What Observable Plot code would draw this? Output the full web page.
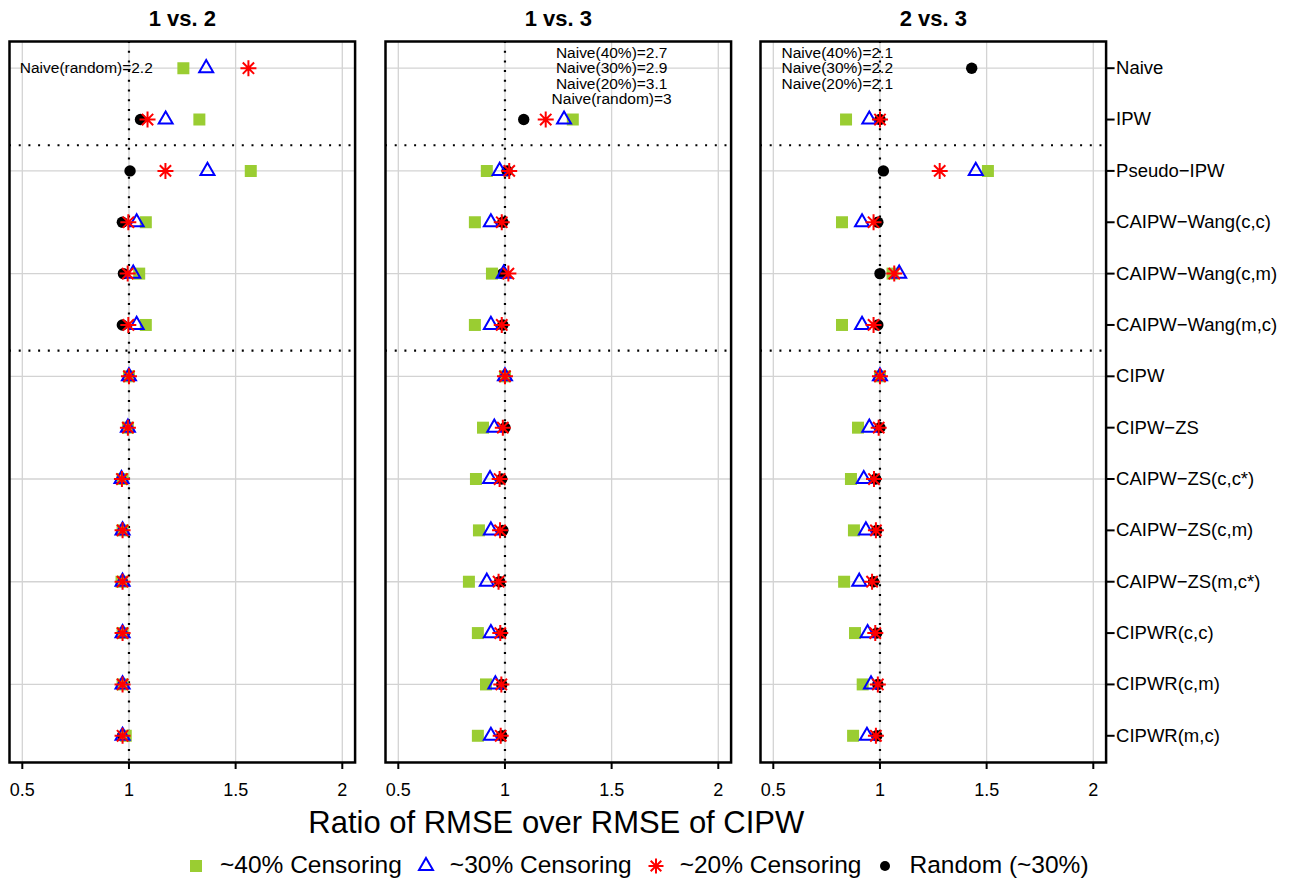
<!DOCTYPE html>
<html><head><meta charset="utf-8">
<script src="https://cdn.jsdelivr.net/npm/d3@7"></script>
<script src="https://cdn.jsdelivr.net/npm/@observablehq/plot@0.6"></script>
<style>
html,body{margin:0;padding:0;background:#fff;}
#root{position:relative;width:1290px;height:883px;overflow:hidden;font-family:"Liberation Sans",Arial,sans-serif;background:#fff;}
.panel{position:absolute;top:0;}
#legend{position:absolute;left:186px;top:853.3px;display:flex;align-items:center;font-size:24.5px;line-height:1;white-space:nowrap;color:#000;}
#legend svg{display:block;flex:none;}
</style></head><body><div id="root"></div>
<script>
// ---------- data ----------
const methods = ["Naive","IPW","Pseudo\u2212IPW","CAIPW\u2212Wang(c,c)","CAIPW\u2212Wang(c,m)","CAIPW\u2212Wang(m,c)","CIPW","CIPW\u2212ZS","CAIPW\u2212ZS(c,c*)","CAIPW\u2212ZS(c,m)","CAIPW\u2212ZS(m,c*)","CIPWR(c,c)","CIPWR(c,m)","CIPWR(m,c)"];
const seriesNames = ["~40% Censoring","~30% Censoring","~20% Censoring","Random (~30%)"];
const seriesTags = ["40%","30%","20%","random"];
const panelTitles = ["1 vs. 2","1 vs. 3","2 vs. 3"];
const xTicks = [0.5, 1, 1.5, 2];
const yGridTicks = [2, 4, 6, 8, 10, 12, 14];
const groupBreaks = [12.5, 8.5];

// panel "1 vs. 2"
const p12_c40 = [1.255, 1.33, 1.571, 1.079, 1.048, 1.079, 1.0, 0.995, 0.97, 0.97, 0.965, 0.97, 0.97, 0.985];
const p12_c30 = [1.362, 1.172, 1.368, 1.036, 1.02, 1.036, 1.0, 0.995, 0.965, 0.97, 0.97, 0.97, 0.97, 0.97];
const p12_c20 = [1.56, 1.087, 1.171, 0.997, 0.994, 0.997, 1.0, 0.995, 0.967, 0.97, 0.97, 0.97, 0.97, 0.97];
const p12_rnd = [2.2, 1.054, 1.005, 0.969, 0.974, 0.969, 1.0, 0.995, 0.967, 0.97, 0.97, 0.97, 0.97, 0.97];
// panel "1 vs. 3"
const p13_c40 = [2.7, 1.318, 0.915, 0.859, 0.939, 0.859, 1.0, 0.897, 0.864, 0.878, 0.831, 0.873, 0.911, 0.873];
const p13_c30 = [2.9, 1.277, 0.975, 0.934, 0.994, 0.934, 1.0, 0.95, 0.93, 0.934, 0.915, 0.934, 0.955, 0.934];
const p13_c20 = [3.1, 1.191, 1.02, 0.985, 1.016, 0.985, 1.0, 0.99, 0.975, 0.977, 0.97, 0.978, 0.983, 0.98];
const p13_rnd = [3, 1.088, 1.01, 0.99, 0.99, 0.99, 1.0, 1.0, 0.985, 0.99, 0.975, 0.985, 0.985, 0.985];
// panel "2 vs. 3"
const p23_c40 = [2.1, 0.841, 1.506, 0.822, 1.059, 0.822, 1.0, 0.897, 0.864, 0.878, 0.832, 0.883, 0.919, 0.874];
const p23_c30 = [2.2, 0.95, 1.449, 0.916, 1.09, 0.916, 1.0, 0.95, 0.924, 0.934, 0.903, 0.942, 0.958, 0.939];
const p23_c20 = [2.1, 1.0, 1.28, 0.97, 1.067, 0.97, 1.0, 0.994, 0.972, 0.981, 0.963, 0.978, 0.99, 0.981];
const p23_rnd = [1.43, 1.0, 1.016, 0.99, 1.0, 0.99, 1.0, 1.0, 0.98, 0.985, 0.97, 0.985, 0.99, 0.985];

const panelData = [
  [p12_c40, p12_c30, p12_c20, p12_rnd],
  [p13_c40, p13_c30, p13_c20, p13_rnd],
  [p23_c40, p23_c30, p23_c20, p23_rnd]
];

// ---------- layout / style ----------
const xDomain = [0.44, 2.06];
const yDomain = [0.48, 14.52];
const frameLefts = [8.9, 384.5, 759.5];
const frameW = 345.6;
const frameTop = 41, frameBottom = 762, svgH = 850;
const annPos = [{x: 0.8, y: 14}, {x: 1.5, y: 14.3}, {x: 0.8, y: 14.3}];
const annStep = 0.3;
const colors = ["#9acd32", "blue", "red", "black"];

const squareSym = {draw(c) { c.rect(-6, -6, 12, 12); }};
const triSym = {draw(c) { c.moveTo(0, -8.1); c.lineTo(7, 4.05); c.lineTo(-7, 4.05); c.closePath(); }};
const starSym = {draw(c) {
  const L = 8, d = L / Math.SQRT2;
  c.moveTo(0, -L); c.lineTo(0, L); c.moveTo(-L, 0); c.lineTo(L, 0);
  c.moveTo(-d, -d); c.lineTo(d, d); c.moveTo(-d, d); c.lineTo(d, -d);
}};

const root = document.getElementById("root");

function makePanel(k) {
  const vals = panelData[k];
  const rows = [];
  vals.forEach((arr, s) => arr.forEach((v, i) => rows.push({series: s, y: 14 - i, x: v})));
  const inDom = d => d.x >= xDomain[0] && d.x <= xDomain[1];
  const ser = s => rows.filter(d => d.series === s && inDom(d));
  const ann = [];
  vals.forEach((arr, s) => { if (arr[0] > xDomain[1]) ann.push(`Naive(${seriesTags[s]})=${arr[0]}`); });

  const ML = 12, MR = k === 2 ? 190 : 12;
  const dotted = {stroke: "black", strokeWidth: 2.2, strokeDasharray: "2,7.7"};
  const grid = {stroke: "#d3d3d3", strokeOpacity: 1, strokeWidth: 1.3};
  const marks = [
    Plot.gridX(xTicks, grid),
    Plot.gridY(yGridTicks, grid),
    Plot.ruleX([1], dotted),
    Plot.ruleY(groupBreaks, dotted),
    Plot.dot(ser(3), {x: "x", y: "y", r: 5.7, symbol: "circle", fill: colors[3], stroke: "none", clip: true}),
    Plot.dot(ser(0), {x: "x", y: "y", symbol: squareSym, fill: colors[0], stroke: "none", clip: true}),
    Plot.dot(ser(1), {x: "x", y: "y", symbol: triSym, fill: "none", stroke: colors[1], strokeWidth: 2, clip: true}),
    Plot.dot(ser(2), {x: "x", y: "y", symbol: starSym, fill: "none", stroke: colors[2], strokeWidth: 2, clip: true}),
    Plot.frame({stroke: "black", strokeWidth: 2.5}),
    Plot.axisX(xTicks, {anchor: "bottom", tickSize: 7, tickPadding: 13.5, fontSize: 18, strokeWidth: 2, label: null, tickFormat: d => String(d)}),
    Plot.text(ann, {x: () => annPos[k].x, y: (d, i) => annPos[k].y - annStep * i, text: d => d, fontSize: 15.5, textAnchor: "middle", lineAnchor: "middle"}),
    Plot.text([panelTitles[k]], {frameAnchor: "top", dy: -15, lineAnchor: "bottom", text: d => d, fontSize: 22, fontWeight: "bold"})
  ];
  if (k === 1) {
    marks.push(Plot.text(["Ratio of RMSE over RMSE of CIPW"], {frameAnchor: "bottom", dy: 71, dx: -2, lineAnchor: "bottom", text: d => d, fontSize: 31}));
  }
  if (k === 2) {
    marks.push(Plot.axisY(d3.range(1, 15), {anchor: "right", tickSize: 8, tickPadding: 2, fontSize: 18.5, strokeWidth: 2, label: null, tickFormat: d => methods[14 - d]}));
  }
  const chart = Plot.plot({
    width: ML + frameW + MR,
    height: svgH,
    marginLeft: ML, marginRight: MR, marginTop: frameTop, marginBottom: svgH - frameBottom,
    x: {type: "linear", domain: xDomain},
    y: k === 2 ? {type: "linear", domain: yDomain} : {type: "linear", domain: yDomain, axis: null},
    style: {fontFamily: "Liberation Sans, Arial, sans-serif", overflow: "visible", background: "transparent", maxWidth: "none"},
    marks
  });
  const div = document.createElement("div");
  div.className = "panel";
  div.style.left = (frameLefts[k] - ML) + "px";
  div.style.width = (ML + frameW + MR) + "px";
  div.appendChild(chart);
  root.appendChild(div);
}
[0, 1, 2].forEach(makePanel);

// ---------- legend ----------
const legendIcons = [
  '<rect x="4" y="4" width="12" height="12" fill="#9acd32"/>',
  '<path d="M10,1.9L17,14.05L3,14.05Z" fill="none" stroke="blue" stroke-width="2"/>',
  '<path d="M10,2.5V17.5M2.5,10H17.5M4.7,4.7L15.3,15.3M4.7,15.3L15.3,4.7" fill="none" stroke="red" stroke-width="2"/>',
  '<circle cx="10" cy="10" r="5" fill="black"/>'
];
const legend = document.createElement("div");
legend.id = "legend";
seriesNames.forEach((name, s) => {
  const icon = document.createElement("span");
  icon.innerHTML = `<svg width="20" height="20" viewBox="0 0 20 20">${legendIcons[s]}</svg>`;
  icon.style.marginLeft = s === 0 ? "0px" : "14px";
  icon.style.marginRight = "14px";
  const label = document.createElement("span");
  label.textContent = name;
  legend.appendChild(icon);
  legend.appendChild(label);
});
root.appendChild(legend);
</script>
</body></html>
